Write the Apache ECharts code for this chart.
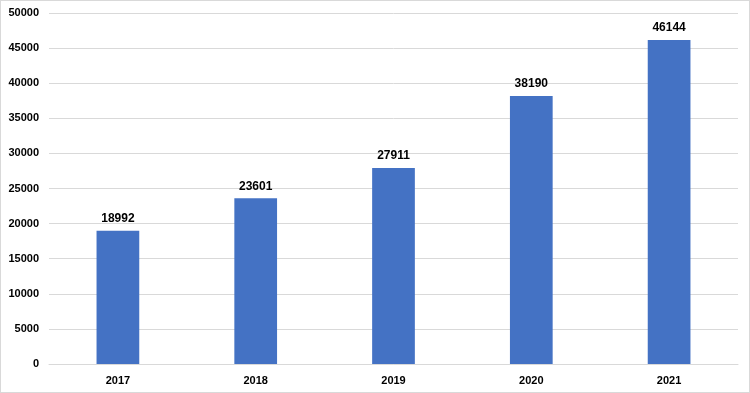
<!DOCTYPE html>
<html><head><meta charset="utf-8">
<script src="https://cdn.jsdelivr.net/npm/echarts@6/dist/echarts.min.js"></script>
<style>
html,body{margin:0;padding:0;background:#fff;}
#c{position:absolute;left:0;top:0;width:748px;height:391px;border:1px solid #d9d9d9;}
</style></head>
<body><div id="c"></div>
<script>
const categories = ['2017','2018','2019','2020','2021'];
const values = [18992, 23601, 27911, 38190, 46144];
const yTicks = {min: 0, max: 50000, interval: 5000};

const chart = echarts.init(document.getElementById('c'));
chart.setOption({
  animation: false,
  grid: {left: 48, right: 11, top: 12, bottom: 28, containLabel: false},
  xAxis: {
    type: 'category', data: categories,
    axisLine: {show: true, lineStyle: {color: '#d9d9d9'}},
    axisTick: {show: false},
    axisLabel: {color: '#000', fontFamily: 'Liberation Sans, Arial', fontWeight: 'bold', fontSize: 11, margin: 11}
  },
  yAxis: {
    type: 'value', min: yTicks.min, max: yTicks.max, interval: yTicks.interval,
    axisLine: {show: false}, axisTick: {show: false},
    splitLine: {lineStyle: {color: '#d9d9d9'}},
    axisLabel: {color: '#000', fontFamily: 'Liberation Sans, Arial', fontWeight: 'bold', fontSize: 11, margin: 10,
      formatter: v => String(v)}
  },
  series: [{
    type: 'bar', data: values, barWidth: '31%',
    itemStyle: {color: '#4472c4'},
    label: {show: true, position: 'top', color: '#000', fontFamily: 'Liberation Sans, Arial', fontWeight: 'bold', fontSize: 12, distance: 6}
  }]
});
</script></body></html>
